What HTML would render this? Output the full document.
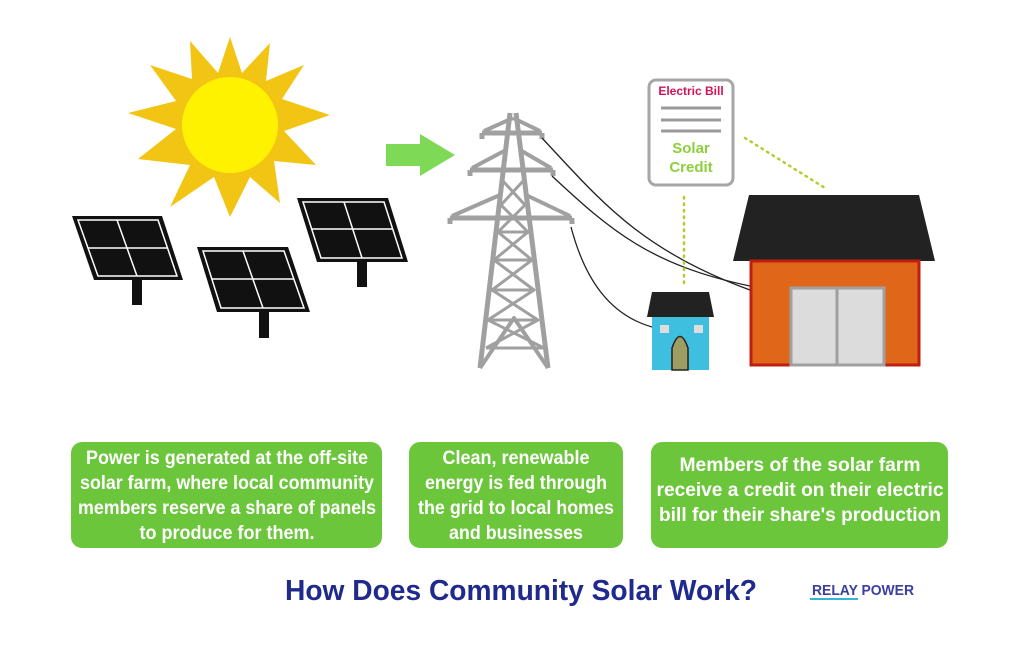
<!DOCTYPE html>
<html><head><meta charset="utf-8"><style>
html,body{margin:0;padding:0;background:#fff;}
svg{display:block;font-family:"Liberation Sans",Arial,sans-serif;}
</style></head><body>
<svg width="1024" height="662" viewBox="0 0 1024 662" xmlns="http://www.w3.org/2000/svg">
<rect width="1024" height="662" fill="#fff"/>
<!-- sun -->
<g transform="translate(230,125)">
<polygon fill="#f2c414" points="
0,-88 12,-52 40,-82 36,-44 74,-60 52,-26 100,-10 54,6 86,40 44,36 50,78 20,52 0,92 -16,52 -60,82 -40,40 -92,34 -54,4 -102,-12 -54,-24 -80,-60 -38,-46 -40,-84 -12,-52"/>
<circle r="48" fill="#fff200"/>
</g>
<!-- panels -->
<g>
<polygon points="72,216 162,216 183,280 94,280" fill="#111"/>
<polygon points="78,220 158,220 177,276 98,276" fill="none" stroke="#fff" stroke-width="1.5"/>
<line x1="117" y1="220" x2="137" y2="276" stroke="#fff" stroke-width="1.5"/>
<line x1="88" y1="248" x2="168" y2="248" stroke="#fff" stroke-width="1.5"/>
<rect x="132" y="280" width="10" height="25" fill="#111"/>

<polygon points="197,247 288,247 310,312 217,312" fill="#111"/>
<polygon points="203,251 284,251 304,308 221,308" fill="none" stroke="#fff" stroke-width="1.5"/>
<line x1="243" y1="251" x2="263" y2="308" stroke="#fff" stroke-width="1.5"/>
<line x1="212" y1="279" x2="294" y2="279" stroke="#fff" stroke-width="1.5"/>
<rect x="259" y="312" width="10" height="26" fill="#111"/>

<polygon points="297,198 388,198 408,262 317,262" fill="#111"/>
<polygon points="303,202 384,202 402,258 321,258" fill="none" stroke="#fff" stroke-width="1.5"/>
<line x1="344" y1="202" x2="362" y2="258" stroke="#fff" stroke-width="1.5"/>
<line x1="312" y1="229" x2="393" y2="229" stroke="#fff" stroke-width="1.5"/>
<rect x="357" y="262" width="10" height="25" fill="#111"/>
</g>
<!-- arrow -->
<polygon points="386,144 420,144 420,134 455,155 420,176 420,166 386,166" fill="#7ed957"/>
<!-- tower -->
<g stroke="#a0a0a0" fill="none" stroke-width="5" stroke-linejoin="round">
<path d="M510,113 L480,368 M516,113 L548,368"/>
<path d="M482,133 L542,133 M470,170 L553,170 M450,218 L572,218"/>
<path d="M513,118 L484,131 M513,118 L540,131 M506,150 L472,168 M520,150 L551,168 M500,195 L452,216 M526,195 L570,216" stroke-width="4"/>
<path d="M502,180 L525,205 L498,232 L532,260 L492,290 L538,320 L486,348 M524,180 L501,205 L528,232 L494,260 L534,290 L488,320 L544,348" stroke-width="3"/>
<path d="M482,133 v6 M542,133 v6 M470,170 v6 M553,170 v6 M450,218 v6 M572,218 v6" stroke-width="5"/>
<path d="M498,232 L528,232 M494,260 L532,260 M492,290 L534,290 M488,320 L538,320 M486,348 L544,348" stroke-width="3"/>
<path d="M480,368 L514,318 L548,368" stroke-width="4"/>
</g>
<!-- wires -->
<g stroke="#222" stroke-width="1.3" fill="none">
<path d="M542,138 C600,200 640,250 750,290"/>
<path d="M552,176 C610,230 650,265 750,286"/>
<path d="M571,227 C585,280 610,315 652,327"/>
</g>
<!-- bill -->
<rect x="649" y="80" width="84" height="105" rx="7" fill="#fff" stroke="#a6a6a6" stroke-width="3"/>
<text x="691" y="95" font-size="12" font-weight="bold" fill="#d0145a" text-anchor="middle">Electric Bill</text>
<g stroke="#9a9a9a" stroke-width="3"><line x1="661" y1="108" x2="721" y2="108"/><line x1="661" y1="120" x2="721" y2="120"/><line x1="661" y1="131" x2="721" y2="131"/></g>
<text x="691" y="153" font-size="15" font-weight="bold" fill="#8ccf3c" text-anchor="middle">Solar</text>
<text x="691" y="172" font-size="15" font-weight="bold" fill="#8ccf3c" text-anchor="middle">Credit</text>
<g stroke="#b5cc30" stroke-width="2.5" stroke-dasharray="1.5,5" stroke-linecap="round">
<line x1="684" y1="197" x2="684" y2="284"/>
<line x1="745" y1="138" x2="825" y2="188"/>
</g>
<!-- small house -->
<polygon points="652,292 709,292 714,317 647,317" fill="#222"/>
<rect x="652" y="317" width="57" height="53" fill="#3fbfe0"/>
<rect x="660" y="325" width="9" height="8" fill="#ddd"/>
<rect x="694" y="325" width="9" height="8" fill="#ddd"/>
<path d="M672,370 L672,348 Q680,325 688,348 L688,370 Z" fill="#9e9e62" stroke="#222" stroke-width="1.5"/>
<!-- big house -->
<polygon points="749,195 919,195 935,261 733,261" fill="#222"/>
<rect x="751" y="261" width="168" height="104" fill="#e0661a" stroke="#c01e10" stroke-width="3"/>
<rect x="791" y="288" width="93" height="77" fill="#dcdcdc" stroke="#a0a0a0" stroke-width="3"/>
<line x1="837" y1="288" x2="837" y2="365" stroke="#a0a0a0" stroke-width="3"/>
<!-- boxes -->
<g fill="#6cc63c">
<rect x="71" y="442" width="311" height="106" rx="11"/>
<rect x="409" y="442" width="214" height="106" rx="11"/>
<rect x="651" y="442" width="297" height="106" rx="11"/>
</g>
<g fill="#fff" font-size="19" font-weight="bold" text-anchor="middle">
<text x="227" y="464" textLength="282" lengthAdjust="spacingAndGlyphs">Power is generated at the off-site</text>
<text x="227" y="489" textLength="294" lengthAdjust="spacingAndGlyphs">solar farm, where local community</text>
<text x="227" y="514" textLength="298" lengthAdjust="spacingAndGlyphs">members reserve a share of panels</text>
<text x="227" y="539" textLength="175" lengthAdjust="spacingAndGlyphs">to produce for them.</text>
<text x="516" y="464" textLength="147" lengthAdjust="spacingAndGlyphs">Clean, renewable</text>
<text x="516" y="489" textLength="182" lengthAdjust="spacingAndGlyphs">energy is fed through</text>
<text x="516" y="514" textLength="196" lengthAdjust="spacingAndGlyphs">the grid to local homes</text>
<text x="516" y="539" textLength="134" lengthAdjust="spacingAndGlyphs">and businesses</text>
<text x="800" y="471" textLength="241" lengthAdjust="spacingAndGlyphs">Members of the solar farm</text>
<text x="800" y="496" textLength="287" lengthAdjust="spacingAndGlyphs">receive a credit on their electric</text>
<text x="800" y="521" textLength="282" lengthAdjust="spacingAndGlyphs">bill for their share's production</text>
</g>
<text x="521" y="600" font-size="29" font-weight="bold" fill="#1f2a8c" text-anchor="middle" textLength="472" lengthAdjust="spacingAndGlyphs">How Does Community Solar Work?</text>
<text x="812" y="595" font-size="15" font-weight="bold" fill="#3a3fa0" textLength="102" lengthAdjust="spacingAndGlyphs">RELAY POWER</text>
<line x1="810" y1="599" x2="858" y2="599" stroke="#35b5d0" stroke-width="2"/>
</svg>
</body></html>
